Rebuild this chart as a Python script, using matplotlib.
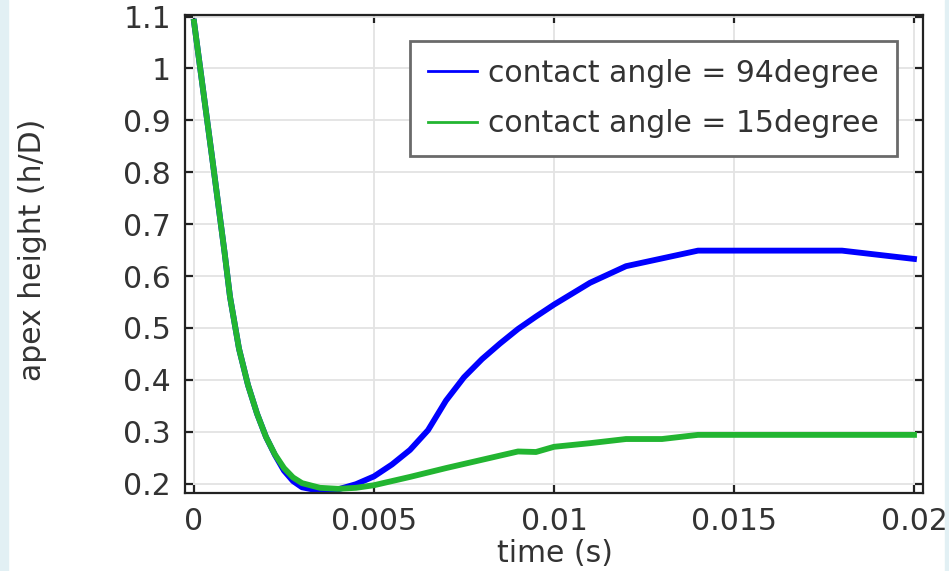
import numpy as np
import matplotlib
matplotlib.use('Agg')
import matplotlib.pyplot as plt
from matplotlib.patches import Rectangle

# time (s)
t_94 = [0, 0.0005, 0.00085, 0.001, 0.00125, 0.0015, 0.00175, 0.002, 0.00225,
        0.0025, 0.00275, 0.003, 0.0035, 0.004, 0.0045, 0.005, 0.0055, 0.006,
        0.0065, 0.007, 0.0075, 0.008, 0.0085, 0.009, 0.0095, 0.01, 0.011,
        0.012, 0.013, 0.014, 0.015, 0.016, 0.017, 0.018, 0.019, 0.02]
h_94 = [1.09, 0.83, 0.645, 0.56, 0.46, 0.39, 0.335, 0.29, 0.255,
        0.225, 0.205, 0.193, 0.186, 0.189, 0.199, 0.214, 0.237, 0.265,
        0.303, 0.36, 0.405, 0.44, 0.47, 0.498, 0.522, 0.545, 0.587,
        0.619, 0.634, 0.649, 0.649, 0.649, 0.649, 0.649, 0.641, 0.633]

t_15 = [0, 0.0005, 0.00085, 0.001, 0.00125, 0.0015, 0.00175, 0.002, 0.00225,
        0.0025, 0.00275, 0.003, 0.0035, 0.004, 0.0045, 0.005, 0.006, 0.007,
        0.008, 0.009, 0.0095, 0.01, 0.011, 0.012, 0.013, 0.014, 0.015, 0.016,
        0.017, 0.018, 0.019, 0.02]
h_15 = [1.09, 0.83, 0.645, 0.56, 0.46, 0.39, 0.335, 0.29, 0.256,
        0.23, 0.212, 0.201, 0.192, 0.19, 0.192, 0.197, 0.213, 0.23,
        0.246, 0.262, 0.261, 0.271, 0.278, 0.286, 0.286, 0.294, 0.294, 0.294,
        0.294, 0.294, 0.294, 0.294]

labels = ['contact angle = 94degree', 'contact angle = 15degree']
xticks = [0, 0.005, 0.01, 0.015, 0.02]
xtick_labels = ['0', '0.005', '0.01', '0.015', '0.02']
yticks = [0.2, 0.3, 0.4, 0.5, 0.6, 0.7, 0.8, 0.9, 1.0, 1.1]
ytick_labels = ['0.2', '0.3', '0.4', '0.5', '0.6', '0.7', '0.8', '0.9', '1', '1.1']

fs = 21.5
plt.rcParams['font.family'] = 'DejaVu Sans'

fig = plt.figure(figsize=(9.49, 5.71), dpi=100)
fig.patches.append(Rectangle((0, 0), 8 / 949, 1, transform=fig.transFigure,
                             color='#e2f0f4', zorder=0))
fig.patches.append(Rectangle((945 / 949, 0), 4 / 949, 1, transform=fig.transFigure,
                             color='#e2f0f4', zorder=0))

ax = fig.add_axes([185 / 949, 1 - 493 / 571, 738 / 949, 478 / 571])

ax.plot(t_94, h_94, color='#0000ff', lw=4.2, label=labels[0], solid_joinstyle='round')
ax.plot(t_15, h_15, color='#22b531', lw=4.2, label=labels[1], solid_joinstyle='round')

ax.set_xlim(-0.00025, 0.02025)
ax.set_ylim(0.182, 1.103)
ax.set_xticks(xticks)
ax.set_xticklabels(xtick_labels)
ax.set_yticks(yticks)
ax.set_yticklabels(ytick_labels)
ax.grid(True, color='#e3e3e3', lw=1.3)
ax.set_axisbelow(True)

ax.tick_params(direction='in', length=6, width=1.6, color='#222222',
               top=True, right=True, labelsize=fs, pad=10, labelcolor='#333333')
for s in ax.spines.values():
    s.set_color('#222222')
    s.set_linewidth(1.6)

fig.text(33 / 949, 1 - 250 / 571, 'apex height (h/D)', rotation=90,
         ha='center', va='center', fontsize=fs, color='#333333')
fig.text(555 / 949, 1 - 553 / 571, 'time (s)', ha='center', va='center',
         fontsize=fs, color='#333333')

leg = ax.legend(loc='upper right', bbox_to_anchor=(0.9648, 0.9456),
                borderaxespad=0, fontsize=fs, handlelength=1.65,
                handletextpad=0.37, borderpad=0.6, labelspacing=0.72,
                fancybox=False, framealpha=1, edgecolor='#6a6a6a')
leg.get_frame().set_linewidth(2)
for line in leg.get_lines():
    line.set_linewidth(2)
for txt in leg.get_texts():
    txt.set_color('#333333')

fig.savefig('out.png', dpi=100)
